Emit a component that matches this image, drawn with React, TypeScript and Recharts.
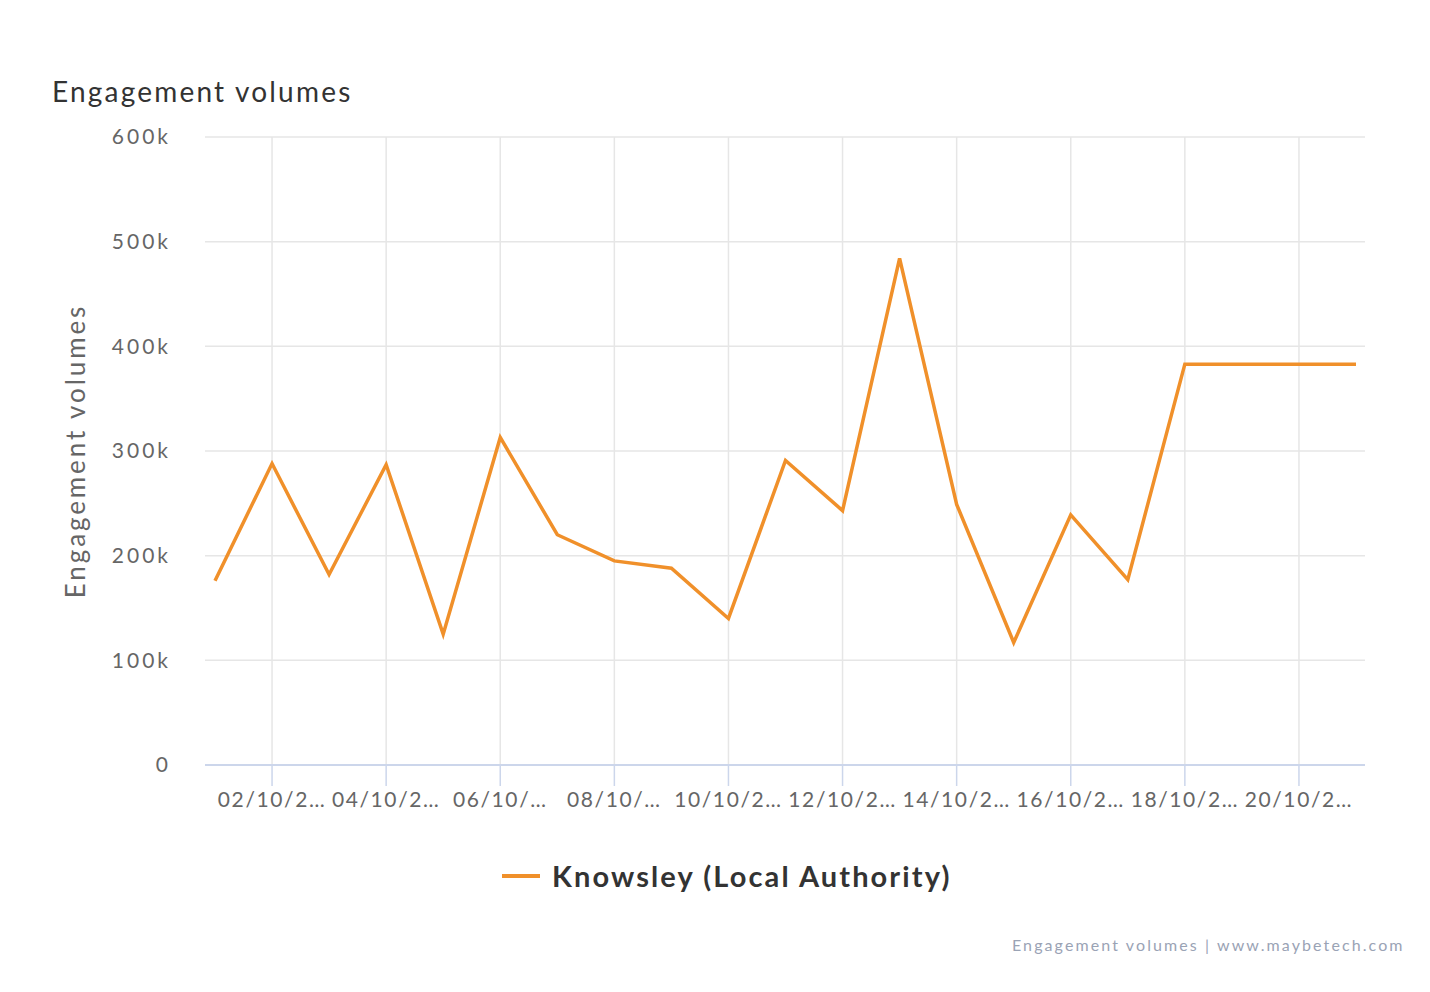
import React from 'react';
import { LineChart, Line, XAxis, YAxis, CartesianGrid } from 'recharts';

const days = [1, 2, 3, 4, 5, 6, 7, 8, 9, 10, 11, 12, 13, 14, 15, 16, 17, 18, 19, 20, 21];
const volumes = [
  176000, 288000, 182000, 287000, 125000, 313000, 220000, 195000, 188000, 140000,
  291000, 243000, 484000, 249000, 117000, 239000, 177000, 383000, 383000, 383000, 383000
];
const xTicks = [2, 4, 6, 8, 10, 12, 14, 16, 18, 20];
const xTickLabels = [
  '02/10/2…', '04/10/2…', '06/10/…', '08/10/…', '10/10/2…',
  '12/10/2…', '14/10/2…', '16/10/2…', '18/10/2…', '20/10/2…'
];
const yTicks = [0, 100000, 200000, 300000, 400000, 500000, 600000];
const yTickLabels = ['0', '100k', '200k', '300k', '400k', '500k', '600k'];

const seriesName = 'Knowsley (Local Authority)';
const lineColor = '#f0902a';
const font = 'Lato, "Open Sans", sans-serif';

const data = days.map((d, i) => ({ day: d, value: volumes[i] }));

export default function App() {
  return (
    <div
      style={{
        position: 'absolute',
        left: 0,
        top: 0,
        width: 1430,
        height: 992,
        background: '#fff',
        fontFamily: font
      }}
    >
      <div
        style={{
          position: 'absolute',
          left: 52,
          top: 74,
          fontSize: 28,
          letterSpacing: 2.2,
          color: '#333'
        }}
      >
        Engagement volumes
      </div>

      <div
        style={{
          position: 'absolute',
          left: 75,
          top: 451,
          transform: 'translate(-50%, -50%) rotate(-90deg)',
          fontSize: 26,
          letterSpacing: 2.9,
          color: '#666',
          whiteSpace: 'nowrap'
        }}
      >
        Engagement volumes
      </div>

      <LineChart
        width={1430}
        height={992}
        data={data}
        margin={{ top: 137, right: 65, bottom: 137, left: 0 }}
      >
        {/* syncWithTicks: grid only at the ticks, no frame at the plot edges */}
        <CartesianGrid stroke="#e6e6e6" strokeWidth={1.5} syncWithTicks />
        <XAxis
          dataKey="day"
          type="number"
          domain={[1, 21]}
          ticks={xTicks}
          interval={0}
          padding={{ left: 10, right: 9 }}
          tickFormatter={(v: number) => xTickLabels[xTicks.indexOf(v)]}
          axisLine={{ stroke: '#ccd6eb', strokeWidth: 2 }}
          tickLine={{ stroke: '#ccd6eb', strokeWidth: 1.5 }}
          tickSize={21}
          tickMargin={6}
          tick={{ fill: '#666', fontSize: 21, fontFamily: font, letterSpacing: 1.6 }}
          height={90}
        />
        <YAxis
          type="number"
          domain={[0, 600000]}
          ticks={yTicks}
          interval={0}
          width={205}
          axisLine={false}
          tickLine={false}
          tickSize={6}
          tickMargin={28}
          tickFormatter={(v: number) => yTickLabels[yTicks.indexOf(v)]}
          tick={{ fill: '#666', fontSize: 21, fontFamily: font, letterSpacing: 3 }}
        />
        <Line
          type="linear"
          dataKey="value"
          name={seriesName}
          stroke={lineColor}
          strokeWidth={3.5}
          dot={false}
          isAnimationActive={false}
        />
      </LineChart>

      <div
        style={{
          position: 'absolute',
          left: 502,
          top: 858,
          display: 'flex',
          alignItems: 'center',
          whiteSpace: 'nowrap'
        }}
      >
        <div style={{ width: 38, height: 4, background: lineColor, marginRight: 12 }} />
        <span style={{ fontSize: 29, fontWeight: 700, color: '#333', letterSpacing: 2.1 }}>
          {seriesName}
        </span>
      </div>

      <div
        style={{
          position: 'absolute',
          left: 1012,
          top: 935,
          fontSize: 16,
          letterSpacing: 2.1,
          color: '#9aa3b5',
          whiteSpace: 'nowrap'
        }}
      >
        Engagement volumes | www.maybetech.com
      </div>
    </div>
  );
}
